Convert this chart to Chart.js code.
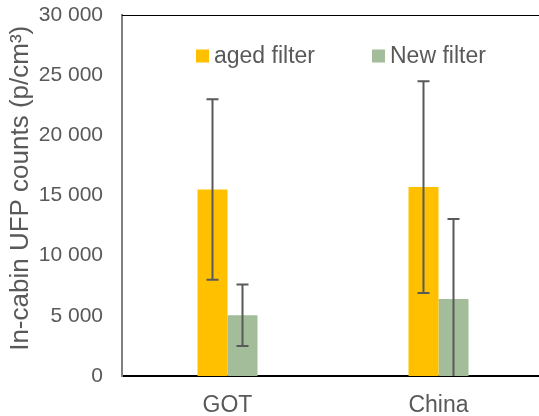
<!DOCTYPE html>
<html lang="en">

<head>
    <meta charset="UTF-8">
    <title>In-cabin UFP counts</title>
    <script src="https://cdn.jsdelivr.net/npm/chart.js@4.4.1/dist/chart.umd.min.js"></script>
    <style>
        html, body { margin: 0; padding: 0; background: #fff; overflow: hidden; }
        #wrap { width: 544px; height: 416px; }
    </style>
</head>

<body>
    <div id="wrap"><canvas id="canvas"></canvas></div>
    <script>
        // data
        const sites = ['GOT', 'China'];
        const agedFilter = [15500, 15700];
        const agedFilterErr = [7500, 8800];
        const newFilter = [5050, 6400];
        const newFilterErr = [2550, 6650];

        const grey = '#595959';
        const fontFamily = '"Liberation Sans", Arial, sans-serif';
        Chart.defaults.font.family = fontFamily;
        Chart.defaults.color = grey;

        // thousands with a space, like 25 000
        function spaced(v) {
            return String(v).replace(/\B(?=(\d{3})+(?!\d))/g, ' ');
        }

        // error bars (+/- one value) on top of each bar
        const errorBars = {
            id: 'errorBars',
            afterDatasetsDraw(chart) {
                const ctx = chart.ctx;
                const y = chart.scales.y;
                const area = chart.chartArea;
                ctx.save();
                ctx.beginPath();
                ctx.rect(area.left, area.top, area.right - area.left, area.bottom - area.top);
                ctx.clip();
                ctx.strokeStyle = grey;
                ctx.lineWidth = 2;
                chart.data.datasets.forEach(function (ds, i) {
                    let meta = chart.getDatasetMeta(i);
                    meta.data.forEach(function (bar, j) {
                        let top = y.getPixelForValue(ds.data[j] + ds.errors[j]);
                        let bot = y.getPixelForValue(ds.data[j] - ds.errors[j]);
                        ctx.beginPath();
                        ctx.moveTo(bar.x, top);
                        ctx.lineTo(bar.x, bot);
                        ctx.moveTo(bar.x - 6, top);
                        ctx.lineTo(bar.x + 6, top);
                        ctx.moveTo(bar.x - 6, bot);
                        ctx.lineTo(bar.x + 6, bot);
                        ctx.stroke();
                    });
                });
                ctx.restore();
            }
        };

        // thin frame line along the top of the plot
        const topLine = {
            id: 'topLine',
            beforeDatasetsDraw(chart) {
                const ctx = chart.ctx;
                const area = chart.chartArea;
                ctx.save();
                ctx.strokeStyle = '#000';
                ctx.lineWidth = 1;
                ctx.beginPath();
                ctx.moveTo(area.left, area.top + 0.5);
                ctx.lineTo(area.right, area.top + 0.5);
                ctx.stroke();
                ctx.restore();
            }
        };

        // legend drawn inside the plot, one row near the top
        const innerLegend = {
            id: 'innerLegend',
            afterDatasetsDraw(chart) {
                const ctx = chart.ctx;
                const area = chart.chartArea;
                const box = 13;
                let x = area.left + 74;
                let y = area.top + 41;
                ctx.save();
                ctx.font = '23px ' + fontFamily;
                ctx.textBaseline = 'middle';
                chart.data.datasets.forEach(function (ds) {
                    ctx.fillStyle = ds.backgroundColor;
                    ctx.fillRect(x, y - box / 2, box, box);
                    ctx.fillStyle = grey;
                    ctx.fillText(ds.label, x + box + 5, y + 1);
                    x += box + 5 + ctx.measureText(ds.label).width + 57;
                });
                ctx.restore();
            }
        };

        let ctx = document.getElementById('canvas').getContext('2d');
        let chart = new Chart(ctx, {
            type: 'bar',
            data: {
                labels: sites,
                datasets: [{
                    label: 'aged filter',
                    data: agedFilter,
                    errors: agedFilterErr,
                    backgroundColor: '#FFC000'
                }, {
                    label: 'New filter',
                    data: newFilter,
                    errors: newFilterErr,
                    backgroundColor: '#A3BD9B'
                }]
            },
            options: {
                responsive: true,
                maintainAspectRatio: false,
                animation: false,
                layout: { padding: { top: 15, left: 0, right: 0, bottom: 0 } },
                datasets: {
                    bar: { categoryPercentage: 0.2844, barPercentage: 1.0 }
                },
                plugins: {
                    tooltip: { enabled: false },
                    legend: { display: false }
                },
                scales: {
                    x: {
                        grid: { display: false, drawTicks: false },
                        border: { color: '#000', width: 2 },
                        ticks: { padding: 16, color: grey, font: { size: 23 } },
                        afterFit(scale) { scale.height = 40; }
                    },
                    y: {
                        min: 0,
                        max: 30000,
                        grid: { display: false, drawTicks: false },
                        border: { color: '#7f7f7f', width: 2 },
                        ticks: {
                            stepSize: 5000,
                            padding: 19,
                            color: grey,
                            font: { size: 21 },
                            callback: function (v) { return spaced(v); }
                        },
                        title: {
                            display: true,
                            text: '  In-cabin UFP counts (p/cm³)',
                            color: grey,
                            font: { size: 26 },
                            padding: { top: 5, bottom: 0 }
                        },
                        afterFit(scale) {
                            scale.width = 122;
                            // top label may hang above the plot; keep the plot at the layout padding
                            scale.paddingTop = 0;
                            scale.paddingBottom = 0;
                        }
                    }
                }
            },
            plugins: [errorBars, topLine, innerLegend]
        });
    </script>
</body>

</html>
